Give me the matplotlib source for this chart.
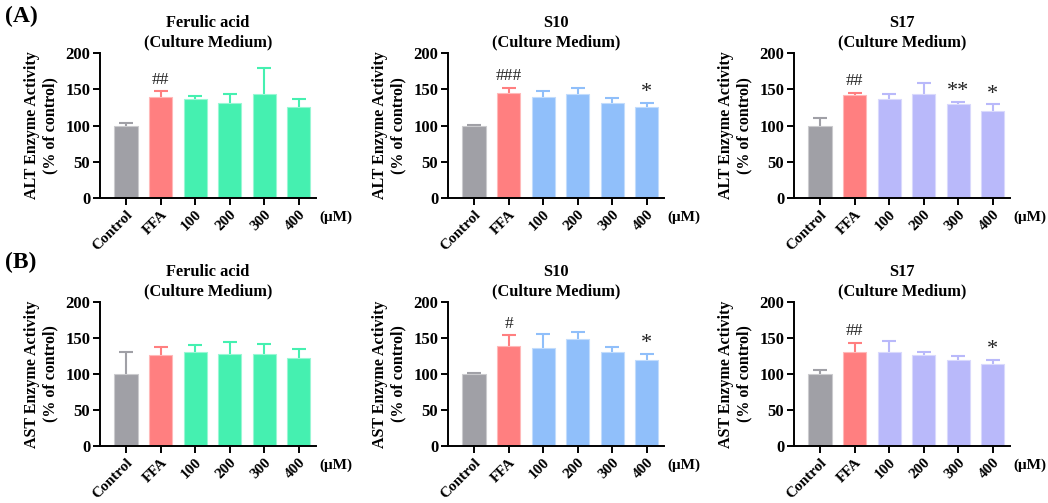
import matplotlib
matplotlib.use("Agg")
import matplotlib.pyplot as plt
from matplotlib.colors import to_rgb

plt.rcParams['font.family'] = ['Liberation Serif', 'DejaVu Serif']
plt.rcParams['font.weight'] = 'bold'

categories = ["Control", "FFA", "100", "200", "300", "400"]

# ALT (row A)
alt_fa_mean = [100, 139, 137, 131, 144, 126]
alt_fa_err = [4, 8, 4, 12, 35, 11]
alt_s10_mean = [100, 145, 139, 144, 131, 126]
alt_s10_err = [1, 7, 8, 8, 7, 5]
alt_s17_mean = [100, 142, 136, 144, 129, 120]
alt_s17_err = [11, 3, 7, 14, 4, 9]

# AST (row B)
ast_fa_mean = [100, 127, 131, 128, 128, 122]
ast_fa_err = [31, 11, 9, 17, 13, 13]
ast_s10_mean = [100, 139, 136, 148, 131, 120]
ast_s10_err = [2, 15, 19, 11, 6, 8]
ast_s17_mean = [100, 130, 131, 127, 119, 114]
ast_s17_err = [6, 13, 15, 3, 6, 6]

alt_fa_sig = ["", "##", "", "", "", ""]
alt_s10_sig = ["", "###", "", "", "", "*"]
alt_s17_sig = ["", "##", "", "", "**", "*"]
ast_fa_sig = ["", "", "", "", "", ""]
ast_s10_sig = ["", "#", "", "", "", "*"]
ast_s17_sig = ["", "##", "", "", "", "*"]

titles = ["Ferulic acid\n(Culture Medium)", "S10\n(Culture Medium)", "S17\n(Culture Medium)"]

grey = "#A0A0A6"
red = "#FF7F80"
green = "#45F0B0"
blue = "#90BFFA"
lav = "#B9B9FA"
treat_colors = [green, blue, lav]


def lighter(c, f=0.45):
    r, g, b = to_rgb(c)
    return (r + (1 - r) * f, g + (1 - g) * f, b + (1 - b) * f)


W, H = 1048, 503
fig = plt.figure(figsize=(W / 100, H / 100), dpi=100)

x_lefts = [100, 448, 794]
x_width = 216
rows = [(53, 198), (302, 446)]

panels = [
    [(alt_fa_mean, alt_fa_err, alt_fa_sig), (alt_s10_mean, alt_s10_err, alt_s10_sig), (alt_s17_mean, alt_s17_err, alt_s17_sig)],
    [(ast_fa_mean, ast_fa_err, ast_fa_sig), (ast_s10_mean, ast_s10_err, ast_s10_sig), (ast_s17_mean, ast_s17_err, ast_s17_sig)],
]
ylabels = ["ALT Enzyme Activity\n(% of control)", "AST Enzyme Activity\n(% of control)"]

for r, (top, bot) in enumerate(rows):
    for c in range(3):
        ax = fig.add_axes([x_lefts[c] / W, (H - bot) / H, x_width / W, (bot - top) / H])
        mean, err, sig = panels[r][c]
        cols = [grey, red] + [treat_colors[c]] * 4
        xs = list(range(len(categories)))
        ups = [m + e for m, e in zip(mean, err)]
        ax.vlines(xs, mean, ups, colors=cols, linewidth=1.5, zorder=1)
        ax.hlines(ups, [x - 0.2 for x in xs], [x + 0.2 for x in xs], colors=cols,
                  linewidth=1.5, zorder=1)
        ax.bar(xs, mean, width=0.68, color=cols, edgecolor=[lighter(cc) for cc in cols],
               linewidth=0.8, zorder=2)
        for i in xs:
            if sig[i]:
                if '*' in sig[i]:
                    ax.text(i, ups[i] + 1, sig[i], ha='center', va='bottom',
                            fontsize=16, fontweight='normal', color='#222222')
                else:
                    ax.text(i, ups[i] + 5, sig[i], ha='center', va='bottom',
                            fontsize=12.5, fontweight='normal', color='#222222')
        ax.set_xlim(-0.76, 5.5)
        ax.set_ylim(0, 200)
        ax.set_yticks([0, 50, 100, 150, 200])
        ax.set_xticks(xs)
        ax.set_xticklabels(categories, rotation=45, ha='right', rotation_mode='anchor',
                           fontsize=11, fontweight='bold')
        for lab in ax.get_yticklabels():
            lab.set_fontsize(12)
            lab.set_fontweight('bold')
        ax.spines['top'].set_visible(False)
        ax.spines['right'].set_visible(False)
        ax.spines['left'].set_linewidth(1.4)
        ax.spines['bottom'].set_linewidth(1.4)
        ax.tick_params(axis='both', direction='out', length=5, width=1.4, pad=2)
        ax.set_ylabel(ylabels[r], fontsize=11.5, fontweight='bold', labelpad=5)
        ax.set_title(titles[c], fontsize=11.8, fontweight='bold', pad=5, linespacing=1.25)
        ax.text(1.0 + 3 / x_width, -0.135, "(\u03bcM)", transform=ax.transAxes, ha='left',
                va='center', fontsize=11, fontweight='bold')

fig.text(5 / W, 1 - 16 / H, "(A)", fontsize=17, fontweight='bold', ha='left', va='center')
fig.text(5 / W, 1 - 262 / H, "(B)", fontsize=17, fontweight='bold', ha='left', va='center')

fig.savefig("out.png", dpi=100)
